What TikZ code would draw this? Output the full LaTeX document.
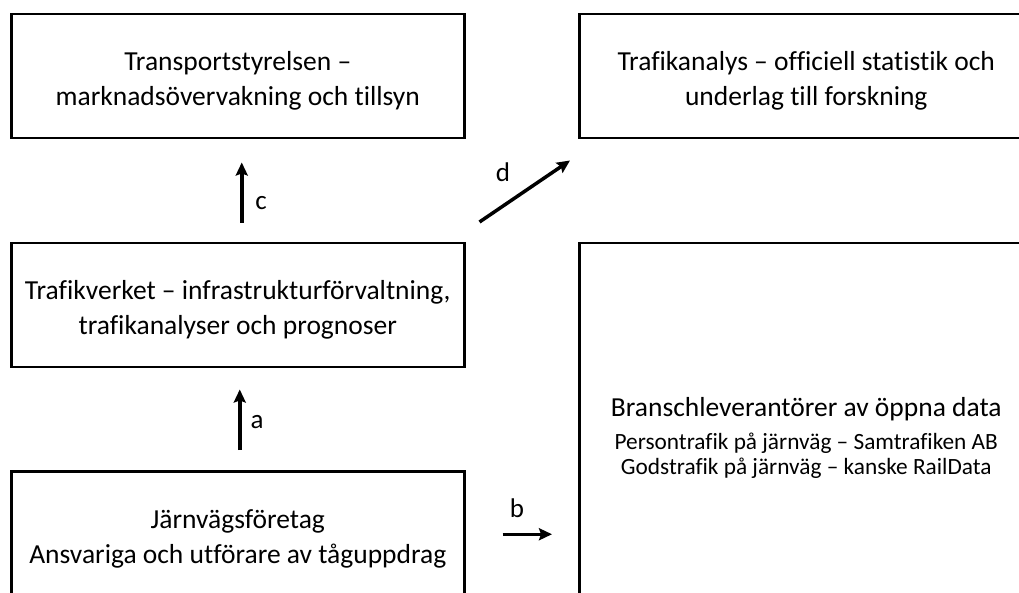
\documentclass[tikz,border=0pt]{standalone}
\usepackage{fontspec}
\setmainfont{Carlito}[Ligatures=NoCommon]
\usetikzlibrary{arrows.meta,positioning}
\newcommand{\boxstrut}{\rule{0pt}{29pt}}

\begin{document}
\begin{tikzpicture}[x=1pt,y=1pt,>={Stealth[length=13pt,width=12pt,inset=2pt]},
  box/.style={draw,line width=2.5pt,minimum width=453pt,minimum height=124pt,
    anchor=north west,align=center,inner sep=0pt,font=\fontsize{27.5}{35}\selectfont},
  arr/.style={->,line width=3.5pt},
  lbl/.style={font=\fontsize{27}{30}\selectfont}]
\useasboundingbox (0,0) rectangle (1019,592);
\clip (0,0) rectangle (1019,592);
\node[box] (trans) at (10,579) {\boxstrut Transportstyrelsen –\\marknadsövervakning och tillsyn};
\node[box,minimum width=454pt] (trafana) at (578,579) {\boxstrut Trafikanalys – officiell statistik och\\underlag till forskning};
\node[box] (trafverk) at (10,350) {\boxstrut Trafikverket – infrastrukturförvaltning,\\trafikanalyser och prognoser};
\node[box,minimum height=126pt] (jvf) at (10,122) {\boxstrut Järnvägsföretag\\Ansvariga och utförare av tåguppdrag};
\node[box,minimum width=454pt,minimum height=390pt] (bransch) at (578,350)
  {Branschleverantörer av öppna data\\[-2pt]
   \fontsize{23.3}{25}\selectfont Persontrafik på järnväg – Samtrafiken AB\\[-10pt]
   \fontsize{23.3}{25}\selectfont Godstrafik på järnväg – kanske RailData};
\draw[arr,shorten <=19pt,shorten >=23pt] ([xshift=4pt]trafverk.north) -- ([xshift=4pt]trans.south);
\draw[arr,shorten <=20pt,shorten >=21pt] ([xshift=2pt]jvf.north) -- ([xshift=2pt]trafverk.south);
\draw[arr,shorten <=37pt,shorten >=26pt] (jvf.east) -- (jvf.east -| bransch.west);
\draw[arr] ([shift={(14,20)}]trafverk.north east) -- ([shift={(-8,-21)}]trafana.south west);
\node[lbl] (lc) at (261,389) {c};
\node[lbl] (la) at (257,170) {a};
\node[lbl] (lb) at (517,84) {b};
\node[lbl] (ld) at (503,420) {d};
\end{tikzpicture}
\end{document}
